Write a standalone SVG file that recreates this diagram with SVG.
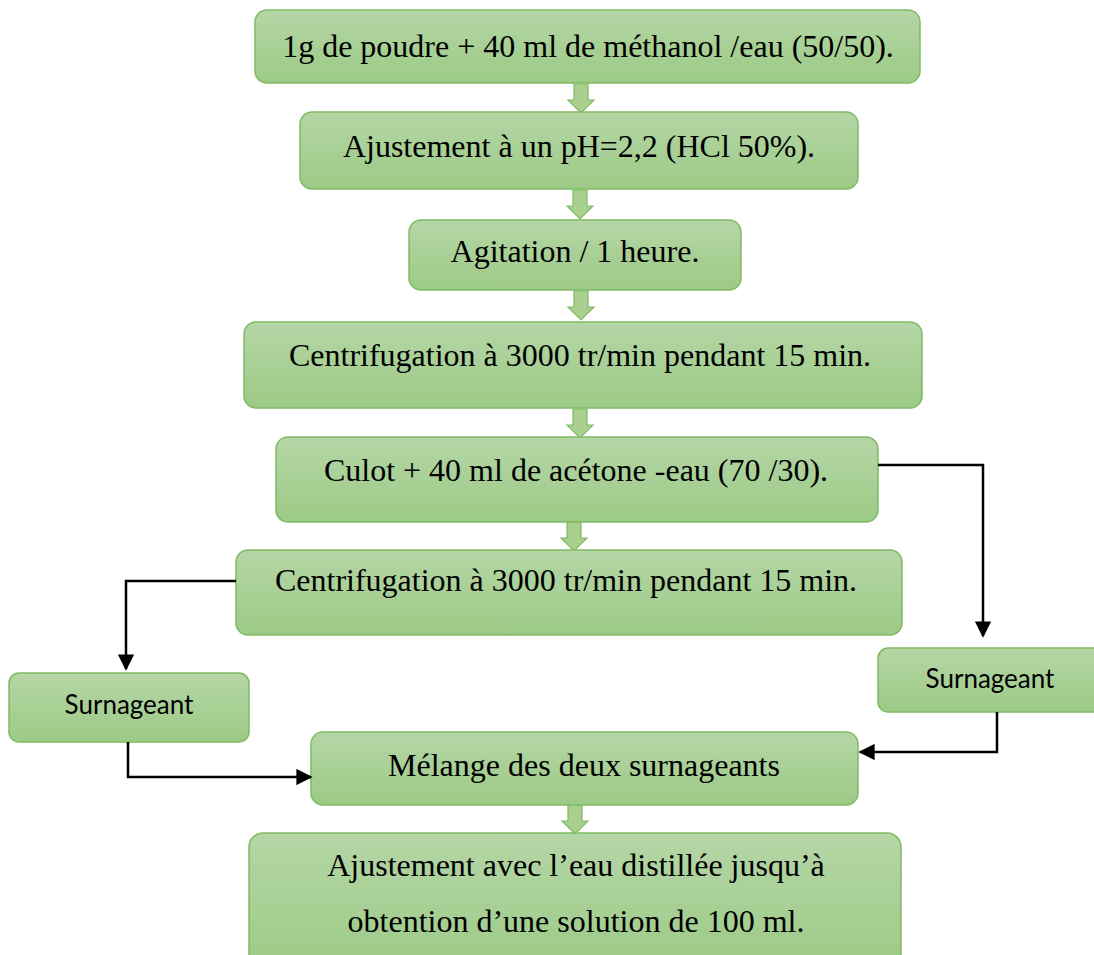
<svg xmlns="http://www.w3.org/2000/svg" width="1094" height="955" viewBox="0 0 1094 955">
<defs>
<linearGradient id="g" x1="0" y1="0" x2="0" y2="1">
<stop offset="0" stop-color="#b5d6a6"/>
<stop offset="1" stop-color="#9cca86"/>
</linearGradient>
<marker id="ah" viewBox="0 0 10 10" refX="9" refY="5" markerWidth="6.5" markerHeight="6.5" orient="auto" markerUnits="strokeWidth">
<path d="M0,0 L10,5 L0,10 z" fill="#000"/>
</marker>
<path id="barrow" d="M-7,0 H7 V16 H13 L0,29 L-13,16 H-7 Z"/>
</defs>
<style>
.box{fill:url(#g);stroke:#7fba63;stroke-width:1.5}
.t{font-family:"Liberation Serif","Times New Roman",serif;font-size:32px;fill:#000;text-anchor:middle}
.s{font-family:Lato,"Open Sans","DejaVu Sans",sans-serif;font-size:26px;fill:#000;text-anchor:middle}
.ba{fill:#a9d08f;stroke:#7fba63;stroke-width:1.2}
.c{fill:none;stroke:#000;stroke-width:2.5;marker-end:url(#ah)}
</style>
<rect width="1094" height="955" fill="#fff"/>
<g id="arrows">
<use href="#barrow" class="ba" x="581" y="84"/>
<use href="#barrow" class="ba" x="580" y="190"/>
<use href="#barrow" class="ba" x="581" y="291"/>
<use href="#barrow" class="ba" x="580" y="409"/>
<use href="#barrow" class="ba" x="574" y="522"/>
<use href="#barrow" class="ba" x="575" y="805"/>
</g>
<g id="n1"><rect class="box" x="255" y="10" width="665" height="73" rx="12"/><text class="t" x="588" y="57">1g de poudre + 40 ml de méthanol /eau (50/50).</text></g>
<g id="n2"><rect class="box" x="300" y="112" width="558" height="77" rx="12"/><text class="t" x="579" y="157">Ajustement à un pH=2,2 (HCl 50%).</text></g>
<g id="n3"><rect class="box" x="409" y="220" width="332" height="70" rx="12"/><text class="t" x="575" y="262">Agitation / 1 heure.</text></g>
<g id="n4"><rect class="box" x="244" y="322" width="678" height="86" rx="12"/><text class="t" x="580" y="366">Centrifugation à 3000 tr/min pendant 15 min.</text></g>
<g id="n5"><rect class="box" x="276" y="437" width="602" height="85" rx="12"/><text class="t" x="576" y="481">Culot + 40 ml de acétone -eau (70 /30).</text></g>
<g id="n6"><rect class="box" x="236" y="550" width="666" height="85" rx="12"/><text class="t" x="566" y="591">Centrifugation à 3000 tr/min pendant 15 min.</text></g>
<g id="n7"><rect class="box" x="9" y="673" width="240" height="69" rx="10"/><text class="s" x="129" y="714">Surnageant</text></g>
<g id="n8"><rect class="box" x="878" y="648" width="230" height="64" rx="10"/><text class="s" x="990" y="688">Surnageant</text></g>
<g id="n9"><rect class="box" x="311" y="732" width="547" height="73" rx="12"/><text class="t" x="584" y="776">Mélange des deux surnageants</text></g>
<g id="n10"><rect class="box" x="249" y="833" width="652" height="140" rx="14"/><text class="t" x="576" y="876">Ajustement avec l’eau distillée jusqu’à</text><text class="t" x="576" y="932">obtention d’une solution de 100 ml.</text></g>
<g id="connectors">
<path class="c" d="M878,465 H983 V636"/>
<path class="c" d="M236,581 H126 V669"/>
<path class="c" d="M128,742 V777 H311"/>
<path class="c" d="M997,712 V752 H860"/>
</g>
</svg>
